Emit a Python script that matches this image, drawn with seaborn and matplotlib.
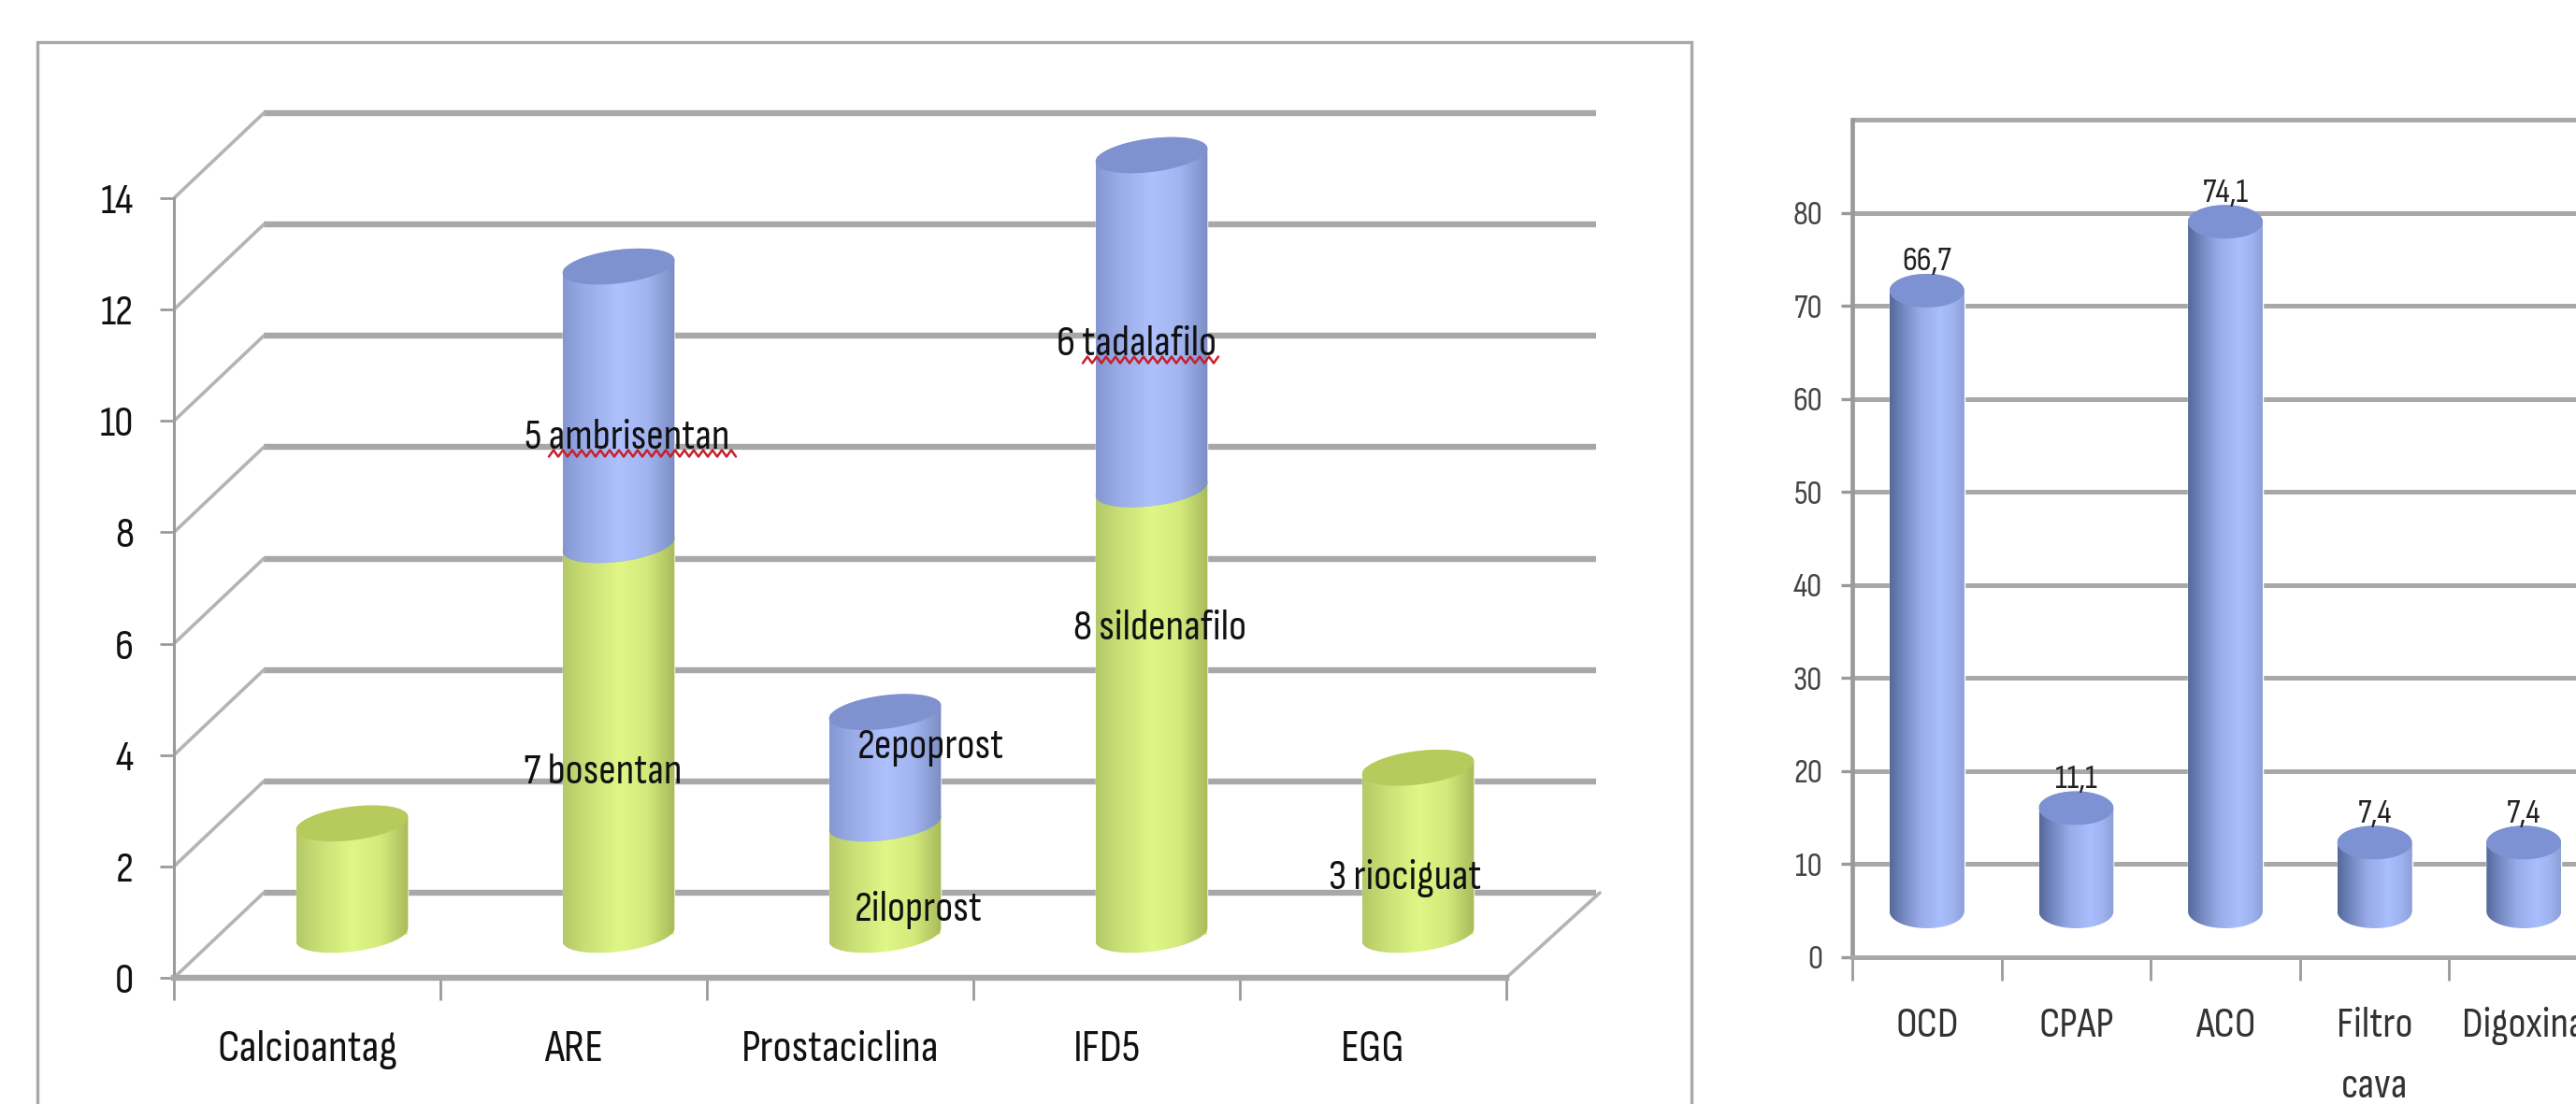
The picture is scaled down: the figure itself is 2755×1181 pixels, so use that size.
import matplotlib
matplotlib.use("Agg")
import matplotlib.pyplot as plt
import numpy as np
import seaborn as sns
from matplotlib.path import Path
from matplotlib.patches import Rectangle
from matplotlib.transforms import Affine2D, IdentityTransform

# Treatment groups, stacked by drug
group_names = ["Calcioantag", "ARE", "Prostaciclina", "IFD5", "EGG"]
lower_counts = [2, 7, 2, 8, 3]
upper_counts = [0, 5, 2, 6, 0]
count_ticks = [0, 2, 4, 6, 8, 10, 12, 14]
drug_labels = ["5 ambrisentan", "7 bosentan", "2epoprost", "2iloprost",
               "6 tadalafilo", "8 sildenafilo", "3 riociguat"]

# Other treatments, percentage of patients
other_names = ["OCD", "CPAP", "ACO", "Filtro\ncava", "Digoxina"]
other_values = [66.7, 11.1, 74.1, 7.4, 7.4]
other_value_labels = ["66,7", "11,1", "74,1", "7,4", "7,4"]
percent_ticks = [0, 10, 20, 30, 40, 50, 60, 70, 80]

W, H, DPI = 2755, 1181, 100
GRID = "#a8a8a8"
AXIS = "#9a9a9a"

sns.set_theme(style="white")
plt.rcParams["font.family"] = ["Sofia Sans Condensed", "Liberation Sans", "DejaVu Sans"]

fig = plt.figure(figsize=(W / DPI, H / DPI), dpi=DPI, facecolor="white")


def axes_at(left, right, top, bottom):
    return fig.add_axes([left / W, 1 - bottom / H, (right - left) / W, (bottom - top) / H])


def gradient(stops):
    pos, cols = zip(*stops)
    rgb = np.array([matplotlib.colors.to_rgb(c) for c in cols])
    t = np.linspace(0, 1, 256)
    return np.stack([np.interp(t, pos, rgb[:, i]) for i in range(3)], axis=-1)[None, ...]


def cylinder(ax, patch, trans, half_h, tilt, side, cap, z):
    """Paint a shaded cylinder over a bar, using the bar's own extent."""
    x, y = patch.get_x(), patch.get_y()
    w, h = patch.get_width(), patch.get_height()
    if h == 0:
        return
    (x0, y0), (x1, y1) = trans.transform([(x, y), (x + w, y + h)])
    cx, a = (x0 + x1) / 2, (x1 - x0) / 2
    t_up = np.linspace(0, np.pi, 60)
    t_low = np.linspace(np.pi, 2 * np.pi, 60)
    upper = np.c_[cx + a * np.cos(t_up), y1 + half_h * np.sin(t_up) + tilt * np.cos(t_up)]
    lower = np.c_[cx + a * np.cos(t_low), y0 + half_h * np.sin(t_low) + tilt * np.cos(t_low)]
    outline = Path(np.vstack([upper, lower, upper[:1]]), closed=True)
    img = ax.imshow(gradient(side), extent=(x0, x1, y0 - half_h - abs(tilt), y1 + half_h + abs(tilt)),
                    transform=IdentityTransform(), aspect="auto", interpolation="bilinear", zorder=z)
    img.set_clip_box(fig.bbox)
    img.set_clip_path(outline, IdentityTransform())
    t_all = np.linspace(0, 2 * np.pi, 120)
    top_face = np.c_[cx + a * np.cos(t_all), y1 + half_h * np.sin(t_all) + tilt * np.cos(t_all)]
    ax.fill(top_face[:, 0], top_face[:, 1], color=cap, lw=0, transform=IdentityTransform(),
            zorder=z + 0.05, clip_on=False)


def squiggle(ax, x0, x1, y):
    xs = np.arange(x0, x1, 5.0)
    ys = y + 3.5 * (-1.0) ** np.arange(len(xs))
    ax.plot(xs, H - ys, color="#c8202a", lw=1.8, transform=IdentityTransform(), zorder=6, clip_on=False)


# Outer frame of the stacked chart, its lower edge falling below the canvas
fig.add_artist(Rectangle((40 / W, -0.02), (1809 - 40) / W, 1 - 45 / H + 0.02, transform=fig.transFigure,
                         fill=False, ec="#a8a8a8", lw=2.4))

# ---------- stacked cylinders with a receding floor ----------
ax = axes_at(186, 1611, 212, 1046)
GREEN_SIDE = [(0, "#b4c868"), (0.18, "#c8dc74"), (0.5, "#e0f786"), (0.75, "#d4ea7c"), (1, "#a8ba5a")]
BLUE_SIDE = [(0, "#8497d2"), (0.18, "#97aae6"), (0.5, "#aec1fc"), (0.75, "#a2b5f0"), (1, "#7b8dc4")]

sns.barplot(x=group_names, y=lower_counts, color="#d8ef80", width=0.42, saturation=1, ax=ax, zorder=2.5)
n_green = len(ax.patches)
sns.barplot(x=group_names, y=upper_counts, bottom=lower_counts, color="#a8bbf6", width=0.42, saturation=1,
            ax=ax, zorder=2.5)

ax.set_xlim(-0.5, 4.5)
ax.set_ylim(0, 14)
mid_depth = Affine2D().translate(48, 46)
back_wall = Affine2D().translate(96, 91)
bar_trans = ax.transData + mid_depth

patches = list(ax.patches)
for i, p in enumerate(patches):
    p.set_transform(bar_trans)
    p.set_clip_on(False)
    if i < n_green:
        cylinder(ax, p, bar_trans, 18, 7, GREEN_SIDE, "#b6cb5c", 3)
    else:
        cylinder(ax, p, bar_trans, 18, 7, BLUE_SIDE, "#7f92cf", 3.2)

ax.set_xlim(-0.5, 4.5)
ax.set_ylim(0, 14)

for v in count_ticks:
    ax.plot([-0.5, 4.5], [v, v], transform=ax.transData + back_wall, color=GRID, lw=4.6,
            solid_capstyle="butt", clip_on=False, zorder=1)
    fx, fy = ax.transData.transform((-0.5, v))
    ax.plot([fx, fx + 96], [fy, fy + 91], transform=IdentityTransform(), color="#b4b4b4", lw=2.6,
            clip_on=False, zorder=1)
fx, fy = ax.transData.transform((4.5, 0))
ax.plot([fx, fx + 100], [fy, fy + 91], transform=IdentityTransform(), color="#b4b4b4", lw=2.6,
        clip_on=False, zorder=1)

sns.despine(ax=ax, top=True, right=True)
ax.spines["left"].set(color=AXIS, lw=2.2)
ax.spines["bottom"].set(color=GRID, lw=4.6)
ax.patch.set_alpha(0)
ax.set_yticks(count_ticks)
ax.set_xticks(range(5), group_names)
ax.set_xticks(np.arange(-0.5, 5), minor=True)
ax.tick_params(axis="y", length=11, width=2, color=AXIS, labelsize=33, pad=20, labelcolor="#111111", left=True)
ax.tick_params(axis="x", which="major", length=0, labelsize=35, pad=40, labelcolor="#111111")
ax.tick_params(axis="x", which="minor", length=17, width=2, color=AXIS, bottom=True)
ax.set_xlabel("")
ax.set_ylabel("")
ax.grid(False)

label_spots = [(671, 469), (645, 826), (995, 800), (982, 973), (1216, 368), (1241, 672), (1503, 939)]
for text, (px, py) in zip(drug_labels, label_spots):
    fig.text(px / W, 1 - py / H, text, ha="center", va="center", fontsize=33, color="#111111", zorder=7)
squiggle(ax, 587, 788, 485)
squiggle(ax, 1158, 1304, 385)

# ---------- single-series cylinders ----------
ax2 = axes_at(1981, 2779, 128, 1024)
BLUE_SIDE2 = [(0, "#55689b"), (0.15, "#6f83bb"), (0.4, "#98abe8"), (0.68, "#a9befc"), (0.85, "#9fb3f0"), (1, "#8c9fd8")]
sns.barplot(x=other_names, y=other_values, color="#a3b7f5", width=0.5, saturation=1, ax=ax2, zorder=2.5)
ax2.set_xlim(-0.5, 4.5)
ax2.set_ylim(0, 90)
bar_trans2 = ax2.transData + Affine2D().translate(0, 49)
for p in list(ax2.patches):
    p.set_transform(bar_trans2)
    p.set_clip_on(False)
    cylinder(ax2, p, bar_trans2, 18, 0, BLUE_SIDE2, "#7d92d2", 3)
ax2.set_xlim(-0.5, 4.5)
ax2.set_ylim(0, 90)

for v in percent_ticks[1:] + [90]:
    ax2.plot([-0.5, 4.5], [v, v], color=GRID, lw=3.6, solid_capstyle="butt", clip_on=False, zorder=1)

for i, (v, lab) in enumerate(zip(other_values, other_value_labels)):
    ax2.annotate(lab, (i, v), xycoords=bar_trans2, xytext=(0, 22), textcoords="offset points",
                 ha="center", va="center", fontsize=26, color="#222222", zorder=7, annotation_clip=False)

sns.despine(ax=ax2, top=True, right=True)
ax2.spines["left"].set(color=AXIS, lw=3.4)
ax2.spines["bottom"].set(color=GRID, lw=3.6)
ax2.patch.set_alpha(0)
ax2.set_yticks(percent_ticks)
ax2.set_xticks(range(5), other_names)
ax2.set_xticks(np.arange(-0.5, 5), minor=True)
ax2.tick_params(axis="y", length=9, width=2.4, color=AXIS, labelsize=26, pad=14, labelcolor="#444444", left=True)
ax2.tick_params(axis="x", which="major", length=0, labelsize=33, pad=38, labelcolor="#333333")
ax2.tick_params(axis="x", which="minor", length=18, width=2, color=AXIS, bottom=True)
for tick_label in ax2.get_xticklabels():
    tick_label.set_linespacing(1.75)
ax2.set_xlabel("")
ax2.set_ylabel("")
ax2.grid(False)

fig.savefig("out.png", dpi=DPI, facecolor="white")
